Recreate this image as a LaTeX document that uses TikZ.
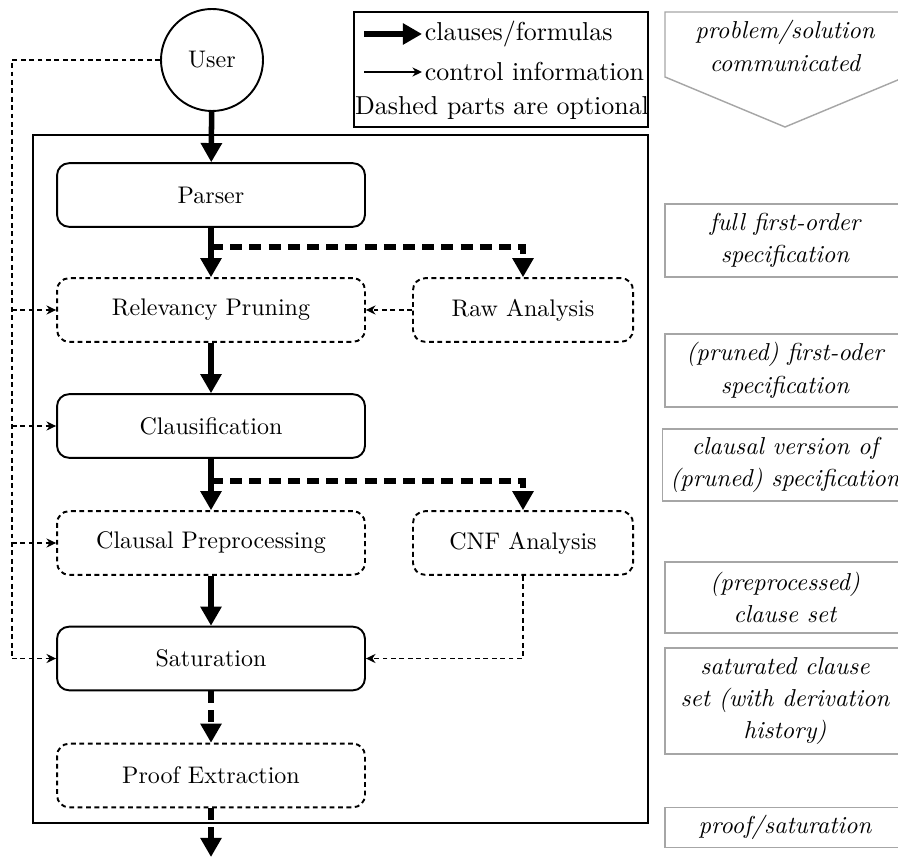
\documentclass[tikz,border=0pt]{standalone}
\usetikzlibrary{arrows.meta, calc}

\begin{document}
\begin{tikzpicture}[x=0.41667pt, y=-0.41667pt,
    stage/.style={rectangle, draw, line width=0.8pt, rounded corners=5pt, minimum width=128.3pt, minimum height=26.5pt, align=center},
    optstage/.style={stage, dash pattern=on 2pt off 1.5pt},
    analysis/.style={optstage, minimum width=91.7pt},
    dataflow/.style={-{Triangle[length=8pt,width=8.5pt]}, line width=2.3pt},
    optflow/.style={dataflow, dash pattern=on 5pt off 3pt},
    railline/.style={line width=0.6pt, dash pattern=on 2pt off 1.5pt},
    control/.style={railline, -{Stealth[length=4pt,width=3.8pt]}},
    legendtext/.style={inner sep=1pt, font=\fontsize{10.8}{13}\selectfont},
    note/.style={rectangle, draw=black!35, line width=0.6pt, minimum width=100pt, align=center, font=\itshape\fontsize{10.2}{13.5}\selectfont}
]
\clip (0,0) rectangle (898,857);

% Legend
\node[draw, line width=0.6pt, minimum width=122.5pt, minimum height=48pt] (legend) at (501,69.5) {};
\node[legendtext, anchor=west] (lgclause) at (422,34) {clauses/formulas};
\node[legendtext, anchor=west] (lgcontrol) at (422,72) {control information};
\node[legendtext] (lgdashed) at (502,108) {Dashed parts are optional};
\coordinate (lgthick) at (364,34);
\coordinate (lgthin) at (364,72);
\draw[dataflow] (lgthick) -- (lgclause);
\draw[line width=0.6pt, -{Stealth[length=4pt,width=3.8pt]}] (lgthin) -- (lgcontrol);

% Prover
\node[draw, line width=0.6pt, minimum width=256.25pt, minimum height=286.7pt] (prover) at (340.5,479) {};
\node[circle, draw, line width=0.8pt, minimum size=42.5pt] (user) at (212,60) {User};
\node[stage] (parser) at (211,195) {Parser};
\node[optstage] (prune) at (211,310) {Relevancy Pruning};
\node[analysis] (raw) at (523,310) {Raw Analysis};
\node[stage] (clausify) at (211,426) {Clausification};
\node[optstage] (preproc) at (211,543) {Clausal Preprocessing};
\node[analysis] (cnf) at (523,543) {CNF Analysis};
\node[stage] (saturate) at (211,658.5) {Saturation};
\node[optstage] (extract) at (211,775.5) {Proof Extraction};

% Data between stages
\coordinate (fork1) at (211,247);
\coordinate (fork2) at (211,481);
\coordinate (result) at (211,857);
\draw[dataflow] (user) -- (parser);
\draw[dataflow] (parser) -- (prune);
\draw[optflow] (fork1) -| (raw);
\draw[dataflow] (prune) -- (clausify);
\draw[dataflow] (clausify) -- (preproc);
\draw[optflow] (fork2) -| (cnf);
\draw[dataflow] (preproc) -- (saturate);
\draw[optflow] (saturate) -- (extract);
\draw[optflow] (extract) -- (result);

% Control
\draw[control] (raw) -- (prune);
\draw[control] (cnf) |- (saturate);
\coordinate (railtop) at (12,60);
\coordinate (railend) at (12,658.5);
\draw[railline] (user) -- (railtop) -- (railend);
\foreach \s in {prune, clausify, preproc, saturate}
    \draw[control] (railtop |- \s.west) -- (\s.west);

% What is passed on
\draw[draw=black!35, line width=0.6pt] (665,12) -- (905,12) -- (905,77) -- (785,127) -- (665,77) -- cycle;
\node[align=center, font=\itshape\fontsize{10.2}{13.5}\selectfont] (communicated) at (785,46) {problem/solution\\communicated};
\node[note, minimum height=30.4pt] (fullspec) at (785,240.5) {full first-order\\specification};
\node[note, minimum height=30.4pt] (prunedspec) at (785,370.5) {(pruned) first-oder\\specification};
\node[note, minimum height=30pt] (clausalspec) at (785,465) {clausal version of\\(pruned) specification};
\node[note, minimum height=29.6pt] (clauseset) at (785,597.5) {(preprocessed)\\clause set};
\node[note, minimum height=44pt] (saturated) at (785,701) {saturated clause\\set (with derivation\\history)};
\node[note, minimum height=16.3pt] (proof) at (785,827.5) {proof/saturation};
\end{tikzpicture}
\end{document}
